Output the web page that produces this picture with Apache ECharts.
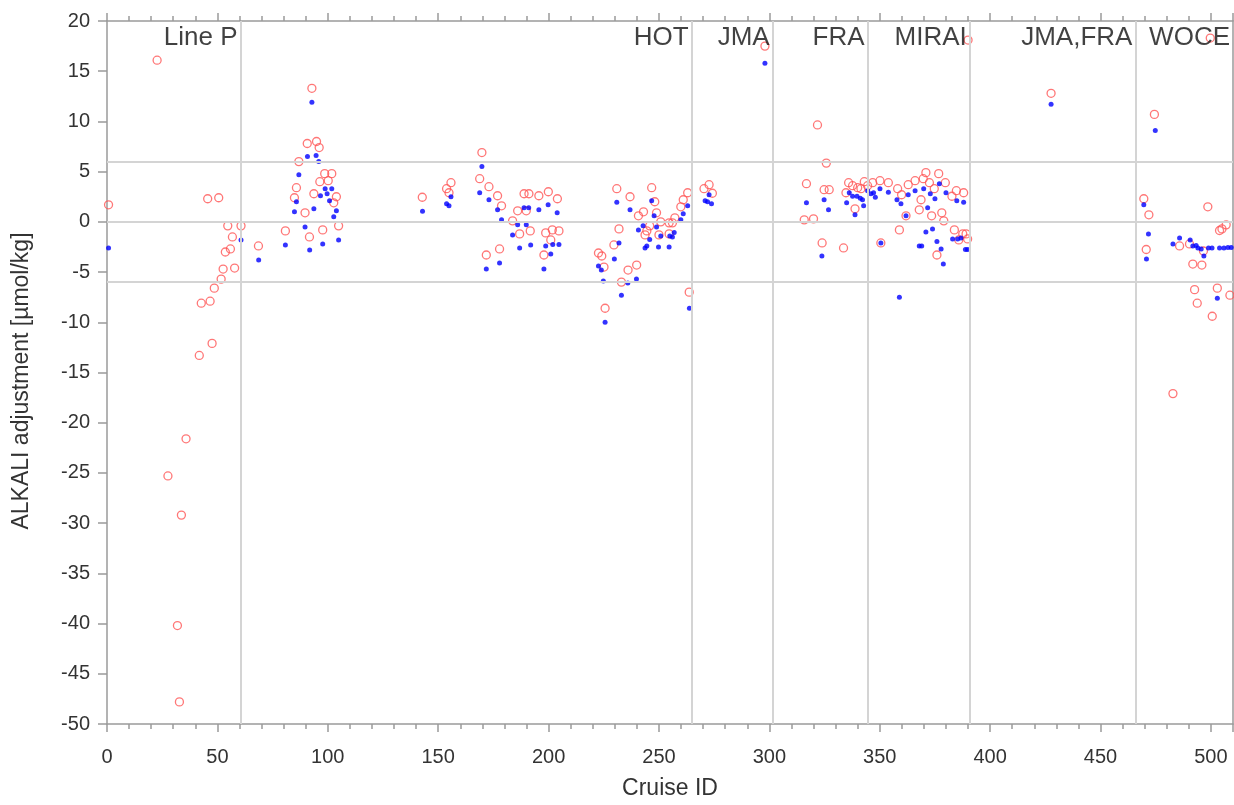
<!DOCTYPE html>
<html>
<head>
<meta charset="utf-8">
<title>ALKALI adjustment</title>
<script src="https://cdn.jsdelivr.net/npm/echarts@6/dist/echarts.min.js"></script>
<style>
    html, body { margin: 0; padding: 0; background: #fff; }
    #chart { width: 1234px; height: 805px; }
</style>
</head>
<body>
<div id="chart"></div>
<script>
//////////////////////////////////////////////////////////////////
// [ Data ]

// red open circles: [cruise id, adjustment]
var redPoints = [
    [0.7, 1.7], [22.7, 16.1], [45.6, 2.3], [50.6, 2.4], [54.7, -0.4], [60.7, -0.4], [56.8, -1.5],
    [53.6, -3.0], [55.9, -2.7], [52.6, -4.7], [57.8, -4.6], [51.7, -5.7], [48.6, -6.6], [46.7, -7.9],
    [42.7, -8.1], [47.6, -12.1], [41.8, -13.3], [35.8, -21.6], [27.6, -25.3], [33.7, -29.2],
    [31.9, -40.2], [32.8, -47.8], [68.6, -2.4], [80.8, -0.9], [84.9, 2.4], [85.8, 3.4], [86.9, 6.0],
    [92.8, 13.3], [90.7, 7.8], [94.9, 8.0], [96.1, 7.4], [98.6, 4.8], [101.8, 4.8], [96.4, 4.0],
    [100.2, 4.1], [93.7, 2.8], [103.9, 2.5], [102.7, 1.9], [89.7, 0.9], [104.9, -0.4], [97.7, -0.8],
    [91.7, -1.5],
    [142.8, 2.45], [153.8, 3.3], [154.9, 2.9], [155.8, 3.9],
    [169.8, 6.9], [168.8, 4.3], [173.0, 3.5], [176.9, 2.6], [178.7, 1.6], [183.7, 0.1], [186.0, 1.1],
    [186.9, -1.2], [188.9, 2.8], [191.1, 2.8], [189.9, 1.1], [191.7, -0.9], [195.6, 2.6], [199.9, 3.0],
    [204.0, 2.3], [198.7, -1.1], [201.7, -0.8], [204.7, -0.9], [201.0, -1.8], [197.9, -3.3],
    [171.8, -3.3], [177.8, -2.7],
    [222.6, -3.1], [224.1, -3.4], [225.1, -4.5], [225.6, -8.6], [230.9, 3.3], [231.9, -0.7],
    [229.6, -2.3], [236.9, 2.5], [233.0, -6.0], [236.0, -4.8], [239.9, -4.3], [240.7, 0.6], [243.0, 1.0],
    [245.8, -0.4], [244.5, -0.9], [243.7, -1.3], [246.7, 3.4], [248.1, 2.0], [248.9, 0.9], [250.0, -1.3],
    [250.8, 0.0], [254.6, -0.1], [256.1, -0.1], [254.6, -1.2], [257.2, 0.4], [259.9, 1.5], [261.0, 2.2],
    [263.0, 2.9], [263.7, -7.0],
    [270.4, 3.3], [272.7, 3.7], [274.2, 2.85], [298.0, 17.5],
    [316.8, 3.8], [315.8, 0.2], [320.0, 0.3], [321.8, 9.65], [323.9, -2.1], [324.8, 3.2], [325.8, 5.85],
    [327.1, 3.2], [333.6, -2.6], [334.7, 2.9], [335.9, 3.9], [337.7, 3.6], [338.8, 1.3], [340.0, 3.4],
    [341.5, 3.3], [343.0, 4.0],
    [344.5, 3.6], [346.8, 3.9], [350.1, 4.1], [350.5, -2.1], [353.9, 3.9], [358.1, 3.3], [358.9, -0.8],
    [359.9, 2.7], [361.9, 0.6], [362.9, 3.7], [366.0, 4.1], [367.9, 1.2], [368.7, 2.2], [369.7, 4.3],
    [370.9, 4.9], [372.5, 3.9], [373.5, 0.6], [374.7, 3.3], [375.9, -3.3], [376.7, 4.8], [378.1, 0.9],
    [379.0, 0.1], [379.7, 3.9], [382.7, 2.55], [383.8, -0.8], [384.7, 3.1], [385.8, -1.8], [387.6, -1.2],
    [388.0, 2.9], [389.1, -1.2], [389.8, -1.7], [390.0, 18.1],
    [427.6, 12.8],
    [469.6, 2.3], [470.7, -2.75], [471.9, 0.7], [474.4, 10.7], [482.8, -17.1], [485.8, -2.4],
    [490.3, -2.2], [491.8, -4.2], [492.6, -6.75], [493.8, -8.1], [495.9, -4.3], [496.6, -2.9],
    [498.6, 1.5], [499.7, 18.3], [500.6, -9.4], [502.9, -6.6], [503.9, -0.86], [505.0, -0.7],
    [506.9, -0.3], [508.6, -7.3]
];

// blue dots: [cruise id, adjustment]
var bluePoints = [
    [0.7, -2.6], [60.7, -1.8], [68.7, -3.8], [80.8, -2.3], [84.9, 1.0], [85.8, 2.0], [86.9, 4.7],
    [92.8, 11.9], [90.8, 6.5], [94.7, 6.6], [95.9, 6.0], [98.8, 3.3], [101.8, 3.3], [99.7, 2.8],
    [96.7, 2.6], [100.8, 2.1], [93.7, 1.3], [103.9, 1.1], [102.7, 0.5], [89.7, -0.5], [91.8, -2.8],
    [97.7, -2.2], [104.9, -1.8],
    [142.9, 1.06], [153.8, 1.8], [154.9, 1.6], [155.8, 2.5],
    [169.8, 5.5], [168.8, 2.9], [173.0, 2.2], [176.9, 1.2], [178.7, 0.2], [171.8, -4.7], [177.8, -4.1],
    [183.7, -1.3], [186.0, -0.3], [186.9, -2.6], [188.9, 1.4], [191.0, 1.4], [189.9, -0.3], [191.9, -2.3],
    [195.6, 1.2], [199.8, 1.7], [203.9, 0.9], [197.9, -4.7], [198.7, -2.4], [201.0, -3.2], [201.9, -2.25],
    [204.7, -2.25],
    [222.6, -4.4], [223.9, -4.8], [224.8, -5.9], [225.6, -10.0], [230.9, 1.95], [231.9, -2.1],
    [229.8, -3.7], [233.0, -7.3], [235.9, -6.1], [239.8, -5.7], [236.9, 1.2], [240.7, -0.8], [242.8, -0.4],
    [243.7, -2.6], [244.5, -2.4], [245.8, -1.75], [246.7, 2.1], [247.8, 0.6], [248.9, -0.5], [249.8, -2.5],
    [250.8, -1.4], [254.6, -2.5], [254.9, -1.4], [256.1, -1.5], [256.9, -1.06], [259.9, 0.2], [261.0, 0.8],
    [263.0, 1.6], [263.8, -8.6],
    [270.9, 2.1], [272.0, 2.0], [273.8, 1.8], [272.7, 2.7], [298.0, 15.8],
    [316.8, 1.9], [324.8, 2.2], [326.8, 1.2], [323.8, -3.4], [335.0, 1.9], [338.8, 0.7], [342.7, 1.6],
    [336.2, 2.9], [337.7, 2.55], [339.7, 2.55], [341.2, 2.35], [342.2, 2.2],
    [344.5, 3.1], [346.0, 2.8], [347.2, 2.9], [348.0, 2.45], [350.1, 3.3], [353.9, 2.95], [357.8, 2.2],
    [359.6, 1.8], [362.9, 2.7], [366.0, 3.1], [369.9, 3.3], [372.9, 2.8], [375.0, 2.3], [377.0, 3.8],
    [380.0, 2.9], [384.9, 2.1], [388.0, 1.95], [371.7, 1.4], [361.9, 0.6], [350.5, -2.1], [370.9, -1.0],
    [373.9, -0.7], [367.9, -2.4], [369.0, -2.4], [375.9, -1.95], [377.8, -2.7], [378.8, -4.2],
    [383.0, -1.7], [385.3, -1.7], [386.8, -1.6], [388.8, -2.75], [389.8, -2.75], [358.9, -7.5],
    [427.6, 11.7],
    [469.6, 1.7], [471.7, -1.2], [470.8, -3.7], [474.8, 9.1], [482.8, -2.2], [485.8, -1.6], [490.6, -1.8],
    [491.8, -2.4], [493.3, -2.35], [494.1, -2.6], [495.6, -2.7], [496.8, -3.4], [498.9, -2.6],
    [500.5, -2.6], [502.9, -7.6], [503.9, -2.6], [505.9, -2.6], [507.7, -2.55], [509.2, -2.55]
];

// cruise groups (label sits just left of the group's right end)
var groupNames = ['Line P', 'HOT', 'JMA', 'FRA', 'MIRAI', 'JMA,FRA', 'WOCE'];
var groupEnds = [60.5, 264.8, 301.5, 344.5, 390.8, 465.8, 510];

// horizontal reference lines
var refLevels = [6, 0, -6];

//////////////////////////////////////////////////////////////////
// [ Chart ]

var FONT = '"Liberation Sans", Arial, Helvetica, sans-serif';
var axisGray = '#9a9a9a';
var gridGray = '#d4d4d4';

var chart = echarts.init(document.getElementById('chart'), null, { renderer: 'canvas' });

var lineData = [];
groupEnds.slice(0, -1).forEach(function (x) {
    lineData.push({ xAxis: x });
});
refLevels.forEach(function (y) {
    lineData.push({ yAxis: y });
});

var labelData = groupNames.map(function (name, i) {
    return [groupEnds[i], 18.3, name];
});

var options = {
    backgroundColor: '#fff',
    animation: false,
    grid: { left: 107, right: 1, top: 21, bottom: 78 },
    // y axis title drawn by hand so it can sit a bit lower, like the original
    graphic: [
        {
            type: 'text',
            x: 22,
            y: 381,
            rotation: Math.PI / 2,
            style: {
                text: 'ALKALI adjustment [µmol/kg]',
                font: '23px ' + FONT,
                fill: '#333',
                textAlign: 'center',
                textVerticalAlign: 'middle'
            }
        }
    ],
    xAxis: [
        {
            type: 'value',
            min: 0,
            max: 510,
            interval: 50,
            name: 'Cruise ID',
            nameLocation: 'middle',
            nameGap: 53,
            nameTextStyle: { fontFamily: FONT, fontSize: 23, color: '#333' },
            axisLine: { onZero: false, lineStyle: { color: axisGray, width: 1.5 } },
            axisTick: { length: 8, lineStyle: { color: axisGray, width: 1.5 } },
            minorTick: { show: true, splitNumber: 5, length: 5, lineStyle: { color: axisGray, width: 1.5 } },
            axisLabel: { fontFamily: FONT, fontSize: 20, color: '#333', margin: 23 },
            splitLine: { show: false }
        },
        {
            type: 'value',
            position: 'top',
            min: 0,
            max: 510,
            interval: 50,
            axisLine: { onZero: false, lineStyle: { color: axisGray, width: 1.5 } },
            axisTick: { length: 8, lineStyle: { color: axisGray, width: 1.5 } },
            minorTick: { show: true, splitNumber: 5, length: 5, lineStyle: { color: axisGray, width: 1.5 } },
            axisLabel: { show: false },
            splitLine: { show: false }
        }
    ],
    yAxis: [
        {
            type: 'value',
            min: -50,
            max: 20,
            interval: 5,
            axisLine: { show: true, onZero: false, lineStyle: { color: axisGray, width: 1.5 } },
            axisTick: { show: true, length: 9, lineStyle: { color: axisGray, width: 1.5 } },
            axisLabel: { fontFamily: FONT, fontSize: 20, color: '#333', margin: 17 },
            splitLine: { show: false }
        },
        {
            type: 'value',
            position: 'right',
            min: -50,
            max: 20,
            interval: 5,
            axisLine: { show: true, onZero: false, lineStyle: { color: axisGray, width: 1.5 } },
            axisTick: { show: false },
            axisLabel: { show: false },
            splitLine: { show: false }
        }
    ],
    series: [
        {
            // guide lines only
            type: 'scatter',
            data: [],
            z: 1,
            silent: true,
            markLine: {
                silent: true,
                symbol: 'none',
                animation: false,
                label: { show: false },
                lineStyle: { color: gridGray, width: 2, type: 'solid' },
                data: lineData
            }
        },
        {
            name: 'red',
            type: 'scatter',
            z: 2,
            symbol: 'circle',
            symbolSize: 8,
            itemStyle: { color: 'rgba(0,0,0,0)', borderColor: '#ff5555', borderWidth: 1.3 },
            data: redPoints
        },
        {
            name: 'blue',
            type: 'scatter',
            z: 3,
            symbol: 'circle',
            symbolSize: 5,
            itemStyle: { color: '#0000ff' },
            data: bluePoints
        },
        {
            // group names
            type: 'scatter',
            z: 4,
            silent: true,
            symbolSize: 0,
            data: labelData,
            label: {
                show: true,
                position: 'left',
                distance: 3,
                formatter: function (p) { return p.value[2]; },
                fontFamily: FONT,
                fontSize: 26,
                color: '#111'
            }
        }
    ]
};

chart.setOption(options);
</script>
</body>
</html>
